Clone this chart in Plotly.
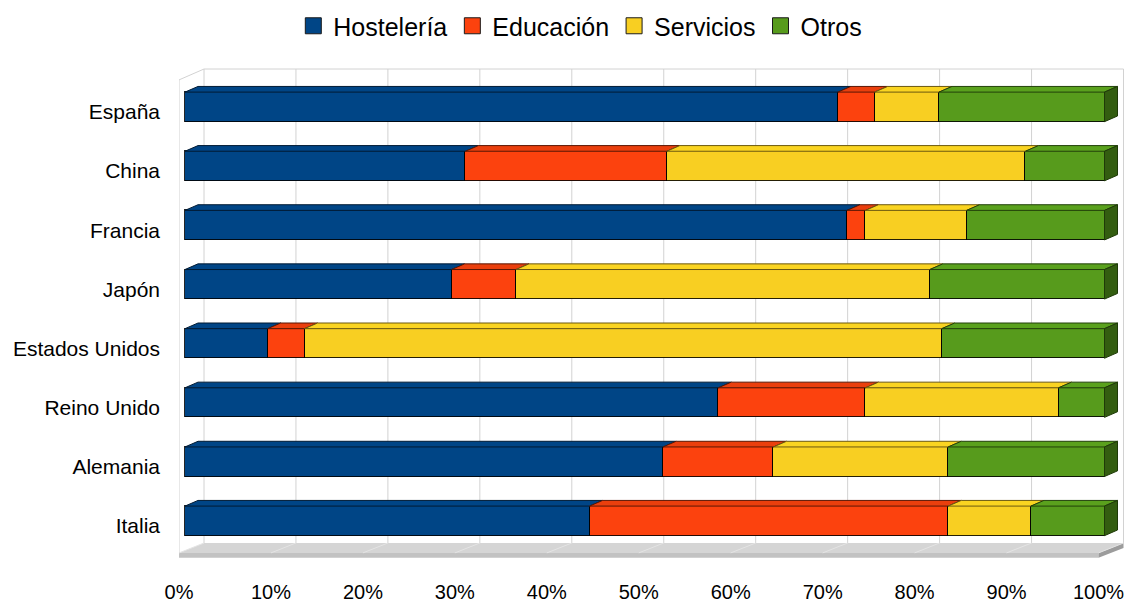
import plotly.graph_objects as go

# ---------------- data ----------------
countries = ["España", "China", "Francia", "Japón", "Estados Unidos",
             "Reino Unido", "Alemania", "Italia"]
series_names = ["Hostelería", "Educación", "Servicios", "Otros"]
hosteleria = [71, 30.5, 72, 29, 9, 58, 52, 44]
educacion = [4, 21.9, 2, 7, 4, 16, 12, 39]
servicios = [7, 39, 11, 45, 69.3, 21, 19, 9]
otros = [18, 8.6, 15, 19, 17.7, 5, 17, 8]
x_ticks = [0, 10, 20, 30, 40, 50, 60, 70, 80, 90, 100]
x_tick_labels = [f"{t}%" for t in x_ticks]

# ---------------- styles ----------------
front_colors = ["#004586", "#fc420e", "#f8cf22", "#579b1c"]
top_colors = ["#004586", "#ea3f0d", "#fad421", "#5aa11d"]
side_color = "#335d10"
edge_colors = ["#001a33", "#5a1705", "#6b5810", "#22400a"]
FONT = "Liberation Sans, Arial, sans-serif"

W, H = 1129, 604
PLOT_L, PLOT_R, PLOT_T, PLOT_B = 179, 1128, 69, 547
X0_PX, X100_PX = 185, 1104.5          # bar front 0% / 100%
PXU = (X100_PX - X0_PX) / 100.0
CAT0_PX, CAT_STEP = 107.2, 59.64       # first category centre / spacing
BW = 0.5                               # bar thickness (category units)
DEPTH_X, DEPTH_Y = 13, 5.7             # bar depth in px
WALL_DX = 19                           # wall offset from bar front (px)
FLOOR_DX, FLOOR_DY, FLOOR_TH = -6, 10, 5

xr = [(PLOT_L - X0_PX) / PXU, (PLOT_R - X0_PX) / PXU]
yr = [(PLOT_B - CAT0_PX) / CAT_STEP, (PLOT_T - CAT0_PX) / CAT_STEP]
DX = DEPTH_X / PXU
DY = DEPTH_Y / CAT_STEP
plot_h = PLOT_B - PLOT_T

values = [hosteleria, educacion, servicios, otros]
ypos = list(range(len(countries)))

fig = go.Figure()

# front faces (stacked bars)
for s, (name, vals) in enumerate(zip(series_names, values)):
    fig.add_trace(go.Bar(
        y=ypos, x=vals, orientation="h", width=BW, name=name,
        marker=dict(color=front_colors[s], line=dict(color="rgba(0,0,0,0.85)", width=1)),
        showlegend=False, hoverinfo="skip"))

# top faces and side face (3D effect), built from the same data
cum = [0.0] * len(countries)
for s, vals in enumerate(values):
    xs, ys = [], []
    for i, v in enumerate(vals):
        a, b = cum[i], cum[i] + v
        yt = i - BW / 2
        xs += [a, b, b + DX, a + DX, a, None]
        ys += [yt, yt, yt - DY, yt - DY, yt, None]
        cum[i] = b
    fig.add_trace(go.Scatter(
        x=xs, y=ys, mode="lines", fill="toself", fillcolor=top_colors[s],
        line=dict(color=edge_colors[s], width=1), showlegend=False, hoverinfo="skip"))

xs, ys = [], []
for i in ypos:
    e = cum[i]
    yt, yb = i - BW / 2, i + BW / 2
    xs += [e, e + DX, e + DX, e, e, None]
    ys += [yt, yt - DY, yb - DY, yb, yt, None]
fig.add_trace(go.Scatter(
    x=xs, y=ys, mode="lines", fill="toself", fillcolor=side_color,
    line=dict(color="#1f3a08", width=1), showlegend=False, hoverinfo="skip"))

# legend entries
for s, name in enumerate(series_names):
    fig.add_trace(go.Scatter(
        x=[None], y=[None], mode="markers", name=name,
        marker=dict(symbol="square", size=18, color=front_colors[s],
                    line=dict(color="#1a1a1a", width=1))))

# ---------------- wall, floor, grid ----------------
shapes = []
grid_c = "#d2d2d2"
wall_off = WALL_DX / PXU
floor_off = FLOOR_DX / PXU
fy = -FLOOR_DY / plot_h
fth = -(FLOOR_DY + FLOOR_TH) / plot_h
# floor top face
shapes.append(dict(type="path", xref="x", yref="paper", layer="below",
                   path=f"M {floor_off},{fy} L {100 + floor_off},{fy} "
                        f"L {100 + wall_off},0 L {wall_off},0 Z",
                   fillcolor="#d5d5d5", line=dict(width=0)))
# floor front strip
shapes.append(dict(type="path", xref="x", yref="paper", layer="below",
                   path=f"M {floor_off},{fy} L {100 + floor_off},{fy} "
                        f"L {100 + floor_off},{fth} L {floor_off},{fth} Z",
                   fillcolor="#c2c2c2", line=dict(width=0)))
# floor right end
shapes.append(dict(type="path", xref="x", yref="paper", layer="below",
                   path=f"M {100 + floor_off},{fy} L {100 + wall_off},0 "
                        f"L {100 + wall_off},{-FLOOR_TH / plot_h} L {100 + floor_off},{fth} Z",
                   fillcolor="#9c9c9c", line=dict(width=0)))
for t in x_ticks:
    # wall grid line
    shapes.append(dict(type="line", xref="x", yref="paper", layer="below",
                       x0=t + wall_off, x1=t + wall_off, y0=0, y1=1,
                       line=dict(color=grid_c, width=1)))
    # floor grid line
    shapes.append(dict(type="line", xref="x", yref="paper", layer="below",
                       x0=t + wall_off, x1=t + floor_off, y0=0, y1=fy,
                       line=dict(color="#e4e4e4", width=1)))
# wall top edge and left side wall
shapes.append(dict(type="line", xref="x", yref="paper", layer="below",
                   x0=wall_off, x1=100 + wall_off, y0=1, y1=1,
                   line=dict(color=grid_c, width=1)))
side_top = 1 - (FLOOR_DY + 1) / plot_h
shapes.append(dict(type="line", xref="x", yref="paper", layer="below",
                   x0=floor_off, x1=wall_off, y0=side_top, y1=1,
                   line=dict(color=grid_c, width=1)))
shapes.append(dict(type="line", xref="x", yref="paper", layer="below",
                   x0=floor_off, x1=floor_off, y0=side_top, y1=fy,
                   line=dict(color=grid_c, width=1)))

fig.update_layout(
    width=W, height=H, barmode="stack", bargap=0,
    margin=dict(l=PLOT_L, r=W - PLOT_R, t=PLOT_T, b=H - PLOT_B, pad=0),
    paper_bgcolor="white", plot_bgcolor="rgba(0,0,0,0)",
    font=dict(family=FONT, color="#000000", size=20),
    shapes=shapes,
    legend=dict(orientation="h", xref="container", yref="container",
                x=0.514, xanchor="center", y=0.995, yanchor="top",
                traceorder="normal",
                font=dict(size=25, family=FONT, color="#000000"),
                bgcolor="rgba(0,0,0,0)"),
    xaxis=dict(range=xr, tickvals=x_ticks, ticktext=x_tick_labels,
               showgrid=False, zeroline=False, showline=False, ticks="",
               ticklabelshift=FLOOR_DX, ticklabelstandoff=35,
               tickfont=dict(size=20, family=FONT, color="#000000"), fixedrange=True),
    yaxis=dict(range=yr, tickvals=ypos, ticktext=countries,
               showgrid=False, zeroline=False, showline=False, ticks="",
               ticklabelstandoff=18, ticklabelshift=-5,
               tickfont=dict(size=21, family=FONT, color="#000000"), fixedrange=True),
)

fig.write_html("out.html")
